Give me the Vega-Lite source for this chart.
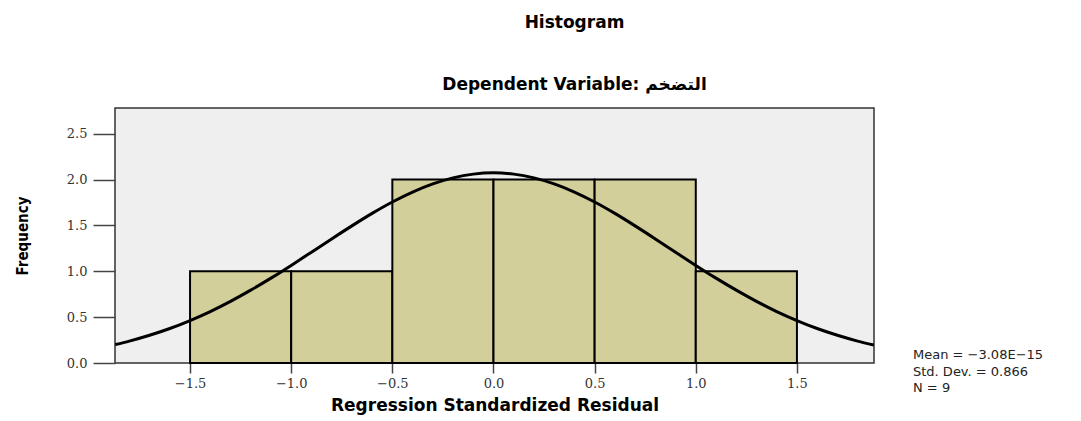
{
  "$schema": "https://vega.github.io/schema/vega-lite/v6.json",
  "width": 759,
  "height": 255,
  "autosize": {"type": "none"},
  "padding": {"left": 115, "top": 108, "right": 207, "bottom": 58},
  "background": "white",
  "title": {
    "text": "Histogram",
    "subtitle": "Dependent Variable: التضخم",
    "anchor": "middle",
    "dx": 80,
    "offset": 14,
    "font": "DejaVu Sans",
    "fontSize": 17,
    "fontWeight": "bold",
    "color": "#000000",
    "subtitleFont": "DejaVu Sans",
    "subtitleFontSize": 17,
    "subtitleFontWeight": "bold",
    "subtitleColor": "#000000",
    "subtitlePadding": 45
  },
  "config": {
    "view": {"fill": "#efefef", "stroke": "#333333", "strokeWidth": 1.5},
    "axis": {
      "grid": false,
      "domain": false,
      "tickColor": "#444444",
      "tickWidth": 1.5,
      "labelFont": "DejaVu Serif",
      "labelFontSize": 13,
      "labelColor": "#333333",
      "titleColor": "#000000"
    }
  },
  "datasets": {
    "bins": [
      {"bin_start": -1.5, "bin_end": -1.0, "count": 1},
      {"bin_start": -1.0, "bin_end": -0.5, "count": 1},
      {"bin_start": -0.5, "bin_end": 0.0, "count": 2},
      {"bin_start": 0.0, "bin_end": 0.5, "count": 2},
      {"bin_start": 0.5, "bin_end": 1.0, "count": 2},
      {"bin_start": 1.0, "bin_end": 1.5, "count": 1}
    ],
    "curve": [
      {"x": -1.87, "y": 0.201},
      {"x": -1.8, "y": 0.239},
      {"x": -1.7, "y": 0.302},
      {"x": -1.6, "y": 0.376},
      {"x": -1.5, "y": 0.463},
      {"x": -1.4, "y": 0.561},
      {"x": -1.3, "y": 0.672},
      {"x": -1.2, "y": 0.794},
      {"x": -1.1, "y": 0.925},
      {"x": -1.0, "y": 1.064},
      {"x": -0.9, "y": 1.208},
      {"x": -0.8, "y": 1.353},
      {"x": -0.7, "y": 1.495},
      {"x": -0.6, "y": 1.631},
      {"x": -0.5, "y": 1.755},
      {"x": -0.4, "y": 1.863},
      {"x": -0.3, "y": 1.952},
      {"x": -0.2, "y": 2.018},
      {"x": -0.1, "y": 2.059},
      {"x": 0.0, "y": 2.073},
      {"x": 0.1, "y": 2.059},
      {"x": 0.2, "y": 2.018},
      {"x": 0.3, "y": 1.952},
      {"x": 0.4, "y": 1.863},
      {"x": 0.5, "y": 1.755},
      {"x": 0.6, "y": 1.631},
      {"x": 0.7, "y": 1.495},
      {"x": 0.8, "y": 1.353},
      {"x": 0.9, "y": 1.208},
      {"x": 1.0, "y": 1.064},
      {"x": 1.1, "y": 0.925},
      {"x": 1.2, "y": 0.794},
      {"x": 1.3, "y": 0.672},
      {"x": 1.4, "y": 0.561},
      {"x": 1.5, "y": 0.463},
      {"x": 1.6, "y": 0.376},
      {"x": 1.7, "y": 0.302},
      {"x": 1.8, "y": 0.239},
      {"x": 1.88, "y": 0.196}
    ],
    "stats": [
      {"label": "Mean = −3.08E−15\nStd. Dev. = 0.866\nN = 9"}
    ]
  },
  "layer": [
    {
      "data": {"name": "bins"},
      "mark": {"type": "rect", "fill": "#d3cf9b", "stroke": "#000000", "strokeWidth": 2},
      "encoding": {
        "x": {
          "field": "bin_start",
          "type": "quantitative",
          "scale": {"domain": [-1.871, 1.881], "nice": false, "zero": false},
          "axis": {
            "values": [-1.5, -1.0, -0.5, 0.0, 0.5, 1.0, 1.5],
            "format": ".1f",
            "tickSize": 10,
            "labelPadding": 4,
            "title": "Regression Standardized Residual",
            "titleFont": "DejaVu Sans",
            "titleFontSize": 17,
            "titleFontWeight": "bold",
            "titlePadding": 7
          }
        },
        "x2": {"field": "bin_end"},
        "y": {
          "field": "count",
          "type": "quantitative",
          "scale": {"domain": [0, 2.78], "nice": false},
          "axis": {
            "values": [0, 0.5, 1.0, 1.5, 2.0, 2.5],
            "format": ".1f",
            "tickSize": 22,
            "labelPadding": 6,
            "title": "Frequency",
            "titleFont": "DejaVu Sans Condensed, Liberation Sans",
            "titleFontSize": 15,
            "titleFontWeight": "bold",
            "titlePadding": 36
          }
        },
        "y2": {"datum": 0}
      }
    },
    {
      "data": {"name": "curve"},
      "mark": {"type": "line", "color": "#000000", "strokeWidth": 3, "interpolate": "monotone", "clip": true},
      "encoding": {
        "x": {"field": "x", "type": "quantitative"},
        "y": {"field": "y", "type": "quantitative"}
      }
    },
    {
      "data": {"name": "stats"},
      "mark": {
        "type": "text",
        "align": "left",
        "baseline": "top",
        "lineBreak": "\n",
        "lineHeight": 16.5,
        "dx": 39,
        "dy": -14,
        "font": "DejaVu Sans",
        "fontSize": 13,
        "color": "#222222",
        "clip": false
      },
      "encoding": {
        "x": {"datum": 1.881},
        "y": {"datum": 0},
        "text": {"field": "label"}
      }
    }
  ]
}
